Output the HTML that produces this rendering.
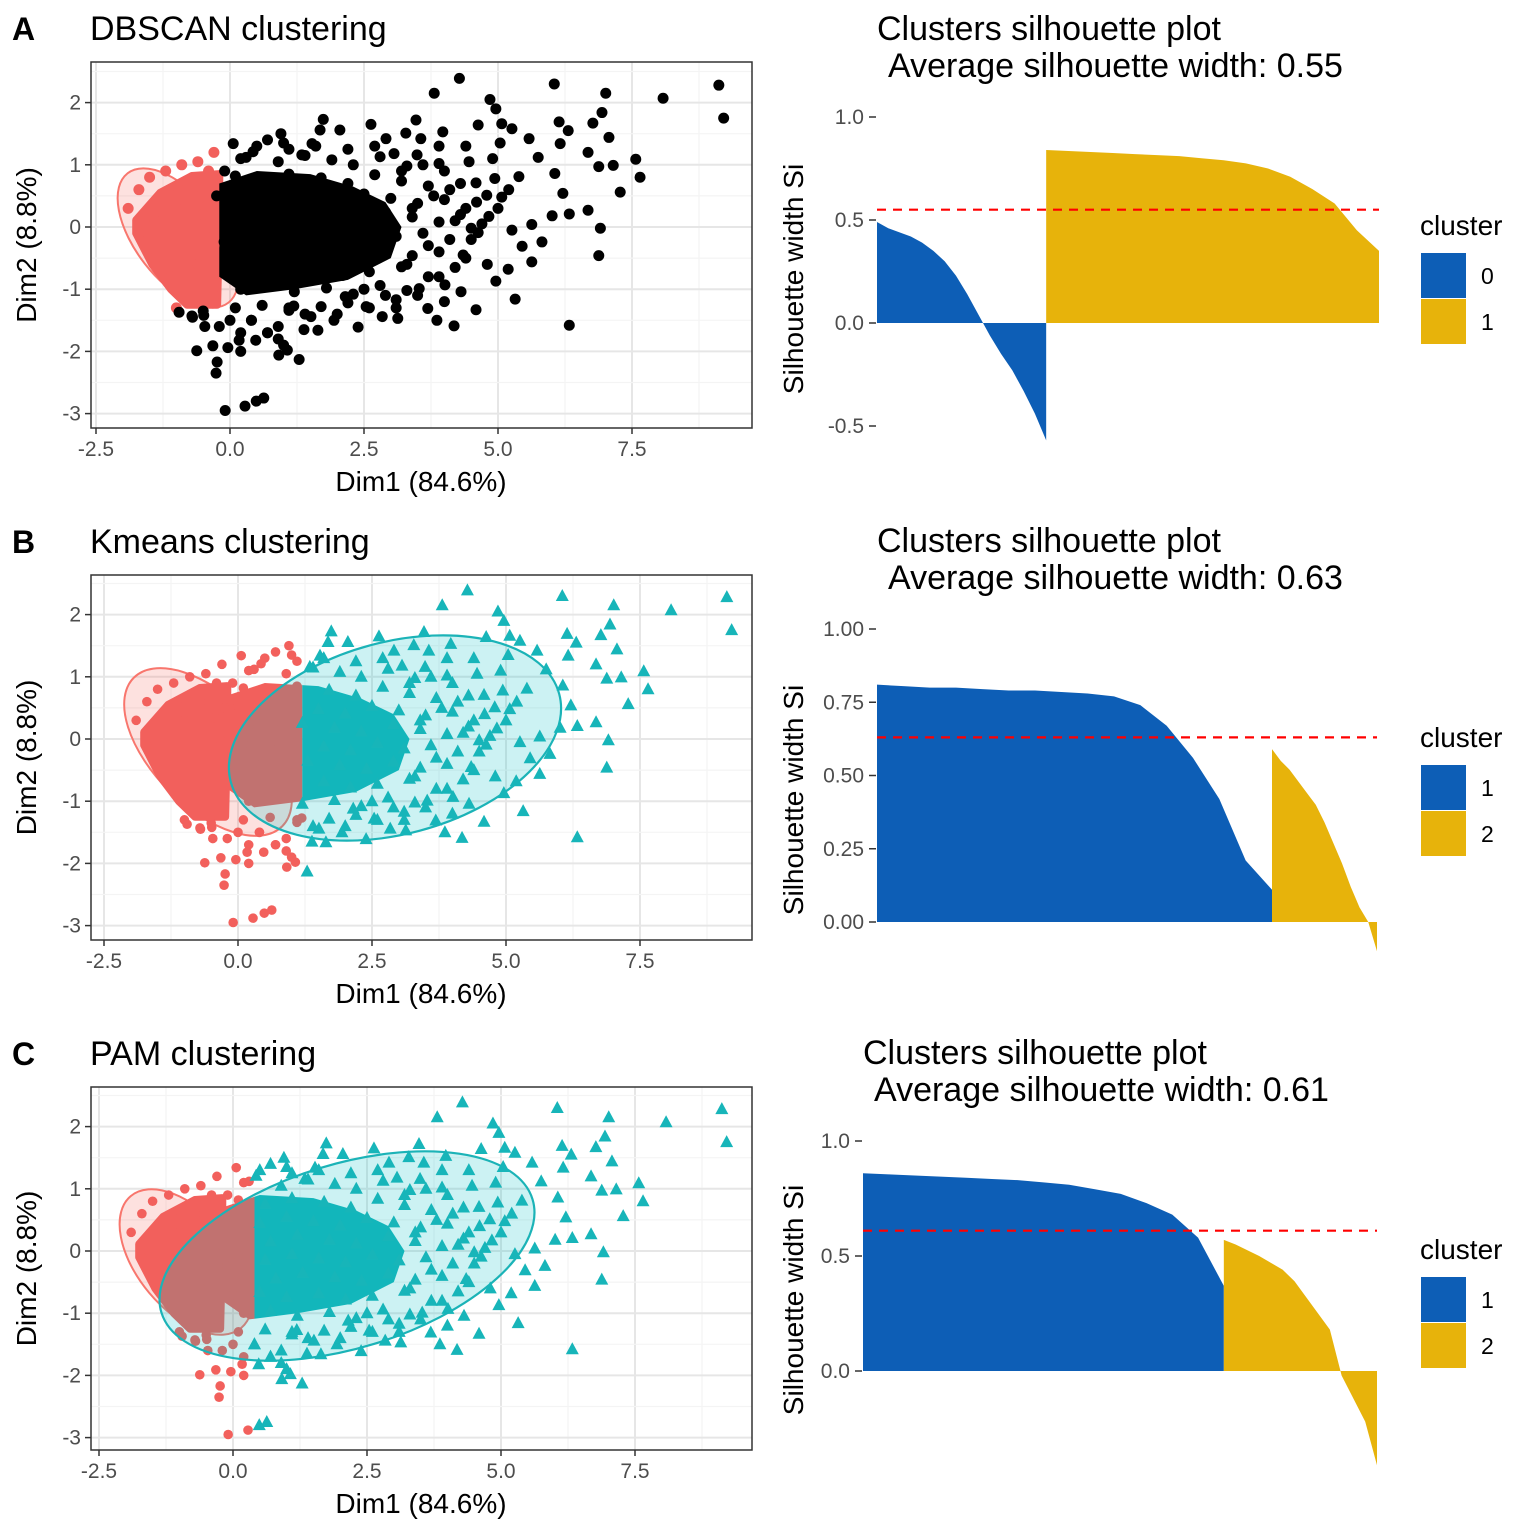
<!DOCTYPE html>
<html><head><meta charset="utf-8"><style>
html,body{margin:0;padding:0;background:#fff}
svg{display:block;font-family:"Liberation Sans",Arial,sans-serif}
</style></head><body>
<svg id="fig" width="1536" height="1536" viewBox="0 0 1536 1536" xmlns="http://www.w3.org/2000/svg"></svg>
<script>
// ---------- shared scatter data (Dim1, Dim2) ----------
const dimX = [4.28,6.05,7.01,9.12,9.21,8.08,3.81,4.85,4.96,6.94,6.77,6.14,6.31,6.16,7.07,6.68,7.57,7.65,6.88,7.15,7.28,6.68,6.91,6.88,6.33,6.33,6.01,6.21,6.06,5.82,5.63,5.63,5.32,5.19,4.96,5.75,5.58,5.26,5.07,5.04,4.63,3.97,3.47,3.56,3.28,2.91,2.63,2.05,1.74,1.68,0.95,0.06,0.43,1.53,1.34,3.06,3.49,4.46,4.94,5.39,4.59,4.79,5.07,4.83,5.26,5.45,4.63,4.35,4.2,4.31,4.59,4.18,3.86,3.69,3.13,2.84,2.39,1.94,1.64,1.38,1.29,0.91,1.07,0.48,0.17,-0.04,0.63,0.49,0.28,-0.09,-0.24,-0.26,-0.32,-0.62,-0.47,-0.95,-0.71,-0.49,1.51,1.19,2.15,2.54,3.1,3.53,4.01,-0.43,-0.32,-0.04,-0.11,
0.3,0.9,1.4,1.9,2.3,2.8,3.3,3.9,0.1,0.6,1.1,1.7,2.2,2.7,3.2,3.7,4.1,0.0,0.5,1.0,1.5,2.0,2.5,3.0,3.5,4.0,4.4,0.2,0.7,1.2,1.8,2.3,2.9,3.4,3.9,4.3,4.7,0.1,0.6,1.1,1.6,2.1,2.6,3.1,3.6,4.1,4.5,0.3,0.8,1.3,1.9,2.4,2.9,3.4,3.9,4.4,0.0,0.5,1.0,1.6,2.1,2.6,3.2,3.7,0.2,0.7,1.2,1.8,2.3,2.8,3.3,0.1,0.6,1.1,1.7,2.2,
-1.9,-1.7,-1.5,-1.2,-0.9,-0.6,-0.4,-0.7,-1.0,-1.4,-1.7,-1.4,-1.1,-0.8,-0.5,-0.3,-0.6,-0.3,-0.5,-0.25,-1.0,-0.7,-0.3,0.5,1.0,0.7,0.2,0.9,1.1,0.4,
3.2,3.6,4.0,4.3,4.6,3.4,3.8,4.2,4.5,3.7,3.3,3.9,2.9,2.5,3.5,4.0,4.8,5.0,5.2,4.9,4.4,3.9,2.7,2.2,1.6,1.1,0.7,0.2,-0.1,0.0,0.4,0.9,1.4,2.0,2.6,3.1,1.0,0.7,0.2,-0.2];
const dimY = [2.39,2.30,2.15,2.28,1.75,2.07,2.15,2.05,1.90,1.84,1.67,1.69,1.55,1.34,1.44,1.20,1.09,0.80,0.97,0.99,0.56,0.27,-0.02,-0.46,-1.58,0.21,0.18,0.54,0.86,-0.24,-0.56,0.04,-1.16,-0.68,-0.87,1.12,1.42,1.58,1.66,1.35,1.64,1.53,1.72,1.42,1.51,1.42,1.65,1.56,1.73,1.56,1.50,1.34,1.21,1.34,1.16,1.18,1.16,1.05,0.78,0.81,0.71,0.51,0.48,0.17,-0.05,-0.31,-0.09,-0.45,-0.65,-1.04,-1.33,-1.59,-1.50,-1.31,-1.47,-1.44,-1.61,-1.50,-1.66,-1.65,-2.13,-2.06,-1.98,-1.82,-1.82,-1.94,-2.75,-2.80,-2.88,-2.95,-2.17,-2.35,-1.91,-1.99,-1.60,-1.37,-1.43,-1.42,-1.44,-1.27,-1.12,-1.28,-1.17,-0.99,-0.93,0.34,-0.02,-0.10,-0.24,
1.12,1.05,1.15,1.08,1.00,1.13,0.98,1.02,0.82,0.76,0.85,0.79,0.70,0.84,0.74,0.66,0.60,0.52,0.45,0.55,0.48,0.41,0.53,0.46,0.38,0.44,0.30,0.22,0.15,0.26,0.18,0.12,0.24,0.16,0.08,0.20,0.05,-0.08,-0.14,-0.05,-0.12,-0.18,-0.06,-0.15,-0.10,-0.20,-0.02,-0.38,-0.44,-0.35,-0.42,-0.48,-0.36,-0.46,-0.40,-0.50,-0.70,-0.66,-0.74,-0.68,-0.78,-0.72,-0.64,-0.80,-1.00,-0.96,-1.04,-0.98,-1.08,-0.94,-1.02,-1.30,-1.26,-1.34,-1.28,-1.22,
0.30,0.60,0.80,0.90,1.00,1.05,0.90,0.60,0.30,0.10,-0.10,-0.50,-0.80,-1.20,-1.35,-1.10,-0.60,-0.30,0.20,0.50,-1.30,-1.45,1.20,1.30,1.35,-1.70,-2.00,-1.80,-1.30,-1.50,
0.9,1.0,0.9,0.7,0.4,0.3,0.5,0.1,-0.2,-0.3,-0.6,-0.8,-1.1,-1.0,-1.1,-1.2,-0.6,0.3,0.6,1.1,1.3,1.3,1.3,1.25,1.3,1.25,1.4,1.1,0.9,-1.5,-1.5,-1.6,-1.4,-1.4,-1.3,-1.3,-1.9,-1.7,-1.7,-1.6];
// dense density cores (data units)
const coreHullX = [-0.2,0.5,1.5,2.3,2.9,3.2,3.0,2.2,1.2,0.3,-0.2];
const coreHullY = [0.7,0.9,0.85,0.65,0.4,0.0,-0.5,-0.85,-1.0,-1.1,-0.8];
const redHullX = [-1.75,-1.3,-0.71,-0.2,-0.2,-0.24,-0.8,-1.1,-1.45,-1.75];
const redHullY = [0.11,0.55,0.82,0.85,0.2,-1.25,-1.25,-1.0,-0.6,-0.1];
// silhouette data
const silA_sizes = [337,663];
const silA_c0 = [0.49,0.46,0.44,0.42,0.39,0.35,0.30,0.23,0.14,0.04,-0.06,-0.15,-0.23,-0.33,-0.44,-0.57];
const silA_c1 = [0.84,0.835,0.83,0.825,0.82,0.815,0.81,0.80,0.79,0.775,0.75,0.71,0.65,0.58,0.45,0.35];
const silB_sizes = [790,210];
const silB_c1 = [0.81,0.805,0.80,0.80,0.795,0.79,0.79,0.785,0.78,0.77,0.74,0.67,0.56,0.42,0.21,0.11];
const silB_c2 = [0.59,0.55,0.52,0.48,0.44,0.40,0.34,0.27,0.20,0.12,0.05,0.0,-0.1];
const silC_sizes = [702,298];
const silC_c1 = [0.86,0.855,0.85,0.845,0.84,0.835,0.83,0.82,0.81,0.79,0.77,0.73,0.68,0.58,0.37];
const silC_c2 = [0.57,0.55,0.525,0.50,0.47,0.44,0.39,0.32,0.25,0.18,-0.02,-0.12,-0.22,-0.41];
const avgSil = [0.55,0.63,0.61];
const xTicks = [-2.5,0.0,2.5,5.0,7.5];
const yTicks = [2,1,0,-1,-2,-3];

const NS="http://www.w3.org/2000/svg";
const fig=document.getElementById('fig');
function mk(tag,attrs,parent){const e=document.createElementNS(NS,tag);for(const k in attrs)e.setAttribute(k,attrs[k]);(parent||fig).appendChild(e);return e;}
function txt(s,attrs,parent){const e=mk('text',attrs,parent);e.textContent=s;return e;}
const RED="#F2605C",TEAL="#17B5B9",BLUE="#0D5EB6",GOLD="#E7B30B";

const panels=[
 {L:'A',title:'DBSCAN clustering',x0:230,y0:227,top:62,bot:428,mode:'A',thr:-0.25,
  redE:[178,238,82,42,52],tealE:null},
 {L:'B',title:'Kmeans clustering',x0:238,y0:739,top:575,bot:940,mode:'B',thr:1.2,
  redE:[208,752,105,55,45],tealE:[395,738,170,96,-15]},
 {L:'C',title:'PAM clustering',x0:233,y0:1251,top:1087,bot:1450,mode:'C',thr:0.4,
  redE:[186,1262,86,48,50],tealE:[347,1256,194,92,-17]}
];
const KX=53.6,KY=62.2,PL=91,PR=752;

panels.forEach((p,pi)=>{
 const g=mk('g',{},fig);
 
 
 const sx=v=>p.x0+v*KX, sy=v=>p.y0-v*KY;
 txt(p.L,{x:12,y:p.top-22,'font-size':32,'font-weight':'bold',fill:'#000'},g);
 txt(p.title,{x:90,y:p.top-22,'font-size':34,fill:'#000'},g);
 const cid='clip'+p.L;
 const cp=mk('clipPath',{id:cid},g);mk('rect',{x:PL,y:p.top,width:PR-PL,height:p.bot-p.top},cp);
 for(let v=-3.75;v<=10;v+=1.25){const x=sx(v);const maj=Math.abs(v/2.5-Math.round(v/2.5))<0.01;if(x>PL&&x<PR)mk('line',{x1:x,x2:x,y1:p.top,y2:p.bot,stroke:maj?'#e6e6e6':'#f4f4f4','stroke-width':maj?2:1.2},g);}
 for(let v=-3.5;v<=3;v+=0.5){const y=sy(v);const maj=Math.abs(v-Math.round(v))<0.01;if(y>p.top&&y<p.bot)mk('line',{x1:PL,x2:PR,y1:y,y2:y,stroke:maj?'#e6e6e6':'#f4f4f4','stroke-width':maj?2:1.2},g);}
 const plot=mk('g',{'clip-path':'url(#'+cid+')'},g);
 const e=p.redE;
 const re=mk('ellipse',{cx:e[0],cy:e[1],rx:e[2],ry:e[3],transform:`rotate(${e[4]} ${e[0]} ${e[1]})`,fill:'#F8766D','fill-opacity':0.22,stroke:'#F8766D','stroke-width':2},plot);
 
 const isRed=(x,y)=>p.mode==='A'?(x<p.thr&&y>-1.35):(x<p.thr);
 const otherCol=p.mode==='A'?'#000':TEAL;
 const hull=(X,Y)=>X.map((v,i)=>sx(v)+','+sy(Y[i])).join(' ');
 const cl2='clipL'+p.L, cr2='clipR'+p.L;
 const c1=mk('clipPath',{id:cl2},g);mk('rect',{x:0,y:0,width:sx(p.thr),height:1536},c1);
 const c2=mk('clipPath',{id:cr2},g);mk('rect',{x:sx(p.thr),y:0,width:1536,height:1536},c2);
 mk('polygon',{points:hull(redHullX,redHullY),fill:RED,stroke:RED,'stroke-width':8,'stroke-linejoin':'round'},plot);
 mk('polygon',{points:hull(coreHullX,coreHullY),fill:RED,'clip-path':'url(#'+cl2+')'},plot);
 const oc=mk('polygon',{points:hull(coreHullX,coreHullY),fill:otherCol,'clip-path':'url(#'+cr2+')'},plot);
 
 dimX.forEach((x,i)=>{const y=dimY[i];if(!isRed(x,y))return;
  const c=mk('circle',{cx:sx(x),cy:sy(y),r:p.mode==='A'?5.5:4.8,fill:RED},plot);
  });
 if(p.tealE){const t=p.tealE;
  const te=mk('ellipse',{cx:t[0],cy:t[1],rx:t[2],ry:t[3],transform:`rotate(${t[4]} ${t[0]} ${t[1]})`,fill:'#00BFC4','fill-opacity':0.2,stroke:'#1BB3B7','stroke-width':2.2},plot);
  }
 dimX.forEach((x,i)=>{const y=dimY[i];if(isRed(x,y))return;
  let m;
  if(p.mode==='A'){m=mk('circle',{cx:sx(x),cy:sy(y),r:5.5,fill:'#000'},plot);}
  else{const X=sx(x),Y=sy(y);m=mk('polygon',{points:`${X},${Y-7} ${X-6.5},${Y+5} ${X+6.5},${Y+5}`,fill:TEAL},plot);}
  });
 mk('rect',{x:PL,y:p.top,width:PR-PL,height:p.bot-p.top,fill:'none',stroke:'#333','stroke-width':1.5},g);
 xTicks.forEach(v=>{const x=sx(v);mk('line',{x1:x,x2:x,y1:p.bot,y2:p.bot+6,stroke:'#333','stroke-width':1.5},g);
  txt(v.toFixed(1),{x:x,y:p.bot+28,'font-size':21,fill:'#4d4d4d','text-anchor':'middle'},g);});
 yTicks.forEach(v=>{const y=sy(v);mk('line',{x1:PL-6,x2:PL,y1:y,y2:y,stroke:'#333','stroke-width':1.5},g);
  txt(String(v),{x:PL-10,y:y+7,'font-size':21,fill:'#4d4d4d','text-anchor':'end'},g);});
 txt('Dim1 (84.6%)',{x:421,y:p.bot+63,'font-size':28,fill:'#000','text-anchor':'middle'},g);
 const cy=(p.top+p.bot)/2;
 txt('Dim2 (8.8%)',{x:36,y:cy,'font-size':28,fill:'#000','text-anchor':'middle',transform:`rotate(-90 36 ${cy})`},g);
});

// ---------- silhouette panels ----------
const sils=[
 {x1:877,x2:1379,z:323,k:206,sizes:silA_sizes,vals:[silA_c0,silA_c1],ticks:[1.0,0.5,0.0,-0.5],dec:1,labels:['0','1'],legY:225,tx:877},
 {x1:877,x2:1377,z:922,k:293,sizes:silB_sizes,vals:[silB_c1,silB_c2],ticks:[1.0,0.75,0.5,0.25,0.0],dec:2,labels:['1','2'],legY:737,tx:877},
 {x1:863,x2:1377,z:1371,k:230,sizes:silC_sizes,vals:[silC_c1,silC_c2],ticks:[1.0,0.5,0.0],dec:1,labels:['1','2'],legY:1249,tx:863}
];
sils.forEach((s,si)=>{
 const g=mk('g',{},fig);
 
 
 const ty=[28,540,1052][si];
 txt('Clusters silhouette plot',{x:s.tx,y:ty+12,'font-size':34,fill:'#000'},g);
 txt('Average silhouette width: '+avgSil[si].toFixed(2),{x:s.tx+11,y:ty+49,'font-size':34,fill:'#000'},g);
 const sy=v=>s.z-v*s.k;
 const tot=s.sizes.reduce((a,b)=>a+b,0);
 let cx=s.x1;const W=s.x2-s.x1;
 s.vals.forEach((arr,ci)=>{
  const w=W*s.sizes[ci]/tot;
  let pts=[`${cx},${s.z}`];
  arr.forEach((v,j)=>{pts.push(`${cx+w*j/(arr.length-1)},${sy(v)}`);});
  pts.push(`${cx+w},${s.z}`);
  const pg=mk('polygon',{points:pts.join(' '),fill:ci===0?BLUE:GOLD},g);
  
  
  cx+=w;
 });
 mk('line',{x1:s.x1,x2:s.x2,y1:sy(avgSil[si]),y2:sy(avgSil[si]),stroke:'#FF0000','stroke-width':2.2,'stroke-dasharray':'9,7'},g);
 s.ticks.forEach(v=>{const y=sy(v);mk('line',{x1:s.x1-8,x2:s.x1-1,y1:y,y2:y,stroke:'#333','stroke-width':1.5},g);
  txt(v.toFixed(s.dec),{x:s.x1-13,y:y+7,'font-size':21,fill:'#4d4d4d','text-anchor':'end'},g);});
 const my=[279,800,1300][si];
 txt('Silhouette width Si',{x:803,y:my,'font-size':28,fill:'#000','text-anchor':'middle',transform:`rotate(-90 803 ${my})`},g);
 txt('cluster',{x:1420,y:s.legY+10,'font-size':28,fill:'#000'},g);
 s.labels.forEach((l,i)=>{const y=s.legY+28+i*46;
  const r=mk('rect',{x:1421,y:y,width:45,height:45,fill:i===0?BLUE:GOLD},g);
  
  txt(l,{x:1481,y:y+31,'font-size':23,fill:'#000'},g);});
});
</script>
</body></html>
